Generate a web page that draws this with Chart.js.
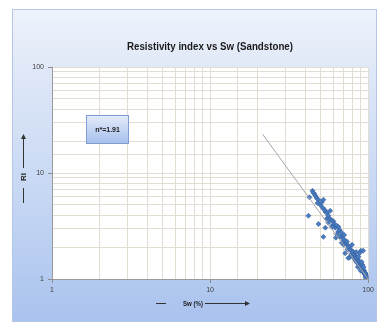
<!DOCTYPE html>
<html>
<head>
<meta charset="utf-8">
<script src="https://cdn.jsdelivr.net/npm/chart.js@4/dist/chart.umd.min.js"></script>
<style>
  html, body { margin: 0; padding: 0; background: #fff; }
  #wrap { width: 377px; height: 323px; }
</style>
</head>
<body>
<div id="wrap"><canvas id="grafico"></canvas></div>
<script>
// Sw (%) and RI of the sandstone plugs
const swValues = [44.4, 45.5, 46.4, 47.2, 48.5, 47.8, 49.9, 50.8, 51.5, 52.1,
  53.0, 53.6, 41.9, 55.0, 56.0, 54.5, 48.5, 57.2, 58.5, 53.6,
  60.3, 59.5, 61.0, 62.0, 63.0, 52.1, 64.8, 63.5, 66.0, 67.7,
  66.5, 68.5, 69.6, 70.5, 71.7, 72.5, 70.0, 73.5, 74.8, 74.0,
  76.0, 77.1, 71.5, 78.5, 78.0, 80.5, 79.5, 81.5, 82.8, 82.0,
  84.0, 83.5, 85.5, 86.5, 85.0, 87.5, 88.0, 89.1, 88.5, 86.0,
  90.0, 90.5, 91.7, 91.0, 92.5, 93.0, 89.5, 94.4, 94.0, 95.0,
  95.5, 96.0, 96.5, 97.1, 97.5, 98.0, 98.5, 99.0, 99.5, 100,
  92.0, 93.5, 90.0, 88.0, 76.5, 74.8, 83.9, 93.0, 91.0, 45.0,
  42.5, 56.0, 59.0, 97.0, 98.8, 96.2, 99.2, 95.2, 65.0, 68.0,
  57.5, 62.5, 79.0, 86.8];
const riValues = [6.8, 6.4, 6.1, 5.8, 5.6, 5.2, 5.0, 5.3, 4.7, 5.6,
  4.5, 4.3, 3.95, 4.2, 3.95, 3.7, 3.3, 3.7, 3.6, 3.05,
  3.5, 3.2, 3.3, 3.05, 3.2, 2.5, 2.8, 2.65, 2.9, 2.75,
  2.5, 2.55, 2.4, 2.6, 2.3, 2.15, 2.1, 2.25, 2.05, 1.9,
  2.0, 1.9, 1.75, 1.85, 1.72, 1.8, 1.65, 1.7, 1.65, 1.55,
  1.6, 1.48, 1.55, 1.5, 1.42, 1.45, 1.38, 1.42, 1.33, 1.3,
  1.35, 1.28, 1.3, 1.22, 1.25, 1.18, 1.2, 1.2, 1.14, 1.15,
  1.1, 1.13, 1.07, 1.1, 1.05, 1.08, 1.03, 1.05, 1.01, 1.0,
  1.36, 1.3, 1.85, 1.75, 1.6, 1.58, 1.8, 1.85, 1.45, 6.5,
  5.9, 3.4, 3.1, 1.0, 1.02, 1.04, 0.99, 1.12, 3.1, 2.2,
  4.4, 2.45, 2.1, 1.62];
// trend line (n = 1.91)
const trendSw = [21.5, 100];
const trendRi = [23.2, 1];
const xTickLabels = [1, 10, 100];
const yTickLabels = [1, 10, 100];

const puntos = swValues.map((sw, i) => ({ x: sw, y: riValues[i] }));
const tendencia = trendSw.map((sw, i) => ({ x: sw, y: trendRi[i] }));

function fitText(ctx, txt, x, y, w) {
  const m = ctx.measureText(txt).width;
  ctx.save();
  ctx.translate(x, y);
  ctx.scale(Math.min(1, w / m), 1);
  ctx.fillText(txt, 0, 0);
  ctx.restore();
}

const decor = {
  id: 'decor',
  beforeDraw(chart) {
    const ctx = chart.ctx;
    const a = chart.chartArea;
    ctx.save();
    ctx.fillStyle = '#fff';
    ctx.fillRect(0, 0, chart.width, chart.height);
    const g = ctx.createLinearGradient(0, 9, 0, 322);
    g.addColorStop(0, '#eef3fb');
    g.addColorStop(0.25, '#dbe5f7');
    g.addColorStop(0.6, '#c6d7f3');
    g.addColorStop(1, '#a9c2ee');
    ctx.fillStyle = g;
    ctx.fillRect(12, 9, 365, 313);
    ctx.strokeStyle = '#b3c6e8';
    ctx.strokeRect(12.5, 9.5, 364, 312);
    ctx.fillStyle = '#fff';
    ctx.fillRect(a.left, a.top, a.right - a.left, a.bottom - a.top);
    ctx.restore();
  },
  afterDraw(chart) {
    const ctx = chart.ctx;
    ctx.save();
    // title
    ctx.fillStyle = '#1a1a1a';
    ctx.font = 'bold 11px "Liberation Sans", sans-serif';
    ctx.textAlign = 'center';
    ctx.textBaseline = 'middle';
    fitText(ctx, 'Resistivity index vs Sw (Sandstone)', 210, 47, 166);

    // x axis title with arrow
    ctx.strokeStyle = '#333';
    ctx.lineWidth = 1;
    ctx.beginPath();
    ctx.moveTo(156, 303.5); ctx.lineTo(166, 303.5);
    ctx.moveTo(205, 303.5); ctx.lineTo(247, 303.5);
    ctx.stroke();
    ctx.beginPath();
    ctx.moveTo(250, 303.5); ctx.lineTo(245, 301); ctx.lineTo(245, 306); ctx.closePath();
    ctx.fillStyle = '#333';
    ctx.fill();
    ctx.fillStyle = '#1a1a1a';
    ctx.font = 'bold 7px "Liberation Sans", sans-serif';
    fitText(ctx, 'Sw (%)', 193, 304, 20);

    // y axis title with arrow
    ctx.strokeStyle = '#333';
    ctx.beginPath();
    ctx.moveTo(23.5, 168); ctx.lineTo(23.5, 138);
    ctx.moveTo(23.5, 188); ctx.lineTo(23.5, 203);
    ctx.stroke();
    ctx.beginPath();
    ctx.moveTo(23.5, 134); ctx.lineTo(21, 139); ctx.lineTo(26, 139); ctx.closePath();
    ctx.fillStyle = '#333';
    ctx.fill();
    ctx.save();
    ctx.translate(23.5, 177);
    ctx.rotate(-Math.PI / 2);
    ctx.fillStyle = '#1a1a1a';
    ctx.font = 'bold 8px "Liberation Sans", sans-serif';
    ctx.fillText('RI', 0, 0);
    ctx.restore();

    // n value box
    const bg = ctx.createLinearGradient(0, 115, 0, 144);
    bg.addColorStop(0, '#e4ecfa');
    bg.addColorStop(1, '#a5bfed');
    ctx.fillStyle = bg;
    ctx.fillRect(86, 115, 43, 29);
    ctx.strokeStyle = '#7f9dd2';
    ctx.strokeRect(86.5, 115.5, 42, 28);
    ctx.fillStyle = '#1a1a1a';
    ctx.font = 'bold 7px "Liberation Sans", sans-serif';
    fitText(ctx, 'n*=1.91', 107.5, 130, 30);
    ctx.restore();
  }
};

const gridColor = '#e2ddd2';
const tickLabel = (v) => (xTickLabels.includes(v) ? String(v) : '');

new Chart(document.getElementById('grafico'), {
  type: 'scatter',
  data: {
    datasets: [{
      label: 'Trend',
      data: tendencia,
      showLine: true,
      borderColor: '#a6a6a6',
      borderWidth: 1,
      pointRadius: 0
    }, {
      label: 'RI',
      data: puntos,
      pointStyle: 'rectRot',
      pointRadius: 2.5,
      backgroundColor: '#4a7bbf',
      borderColor: '#2f5d9e',
      borderWidth: 0.6
    }]
  },
  options: {
    responsive: true,
    maintainAspectRatio: false,
    animation: false,
    layout: { padding: { left: 12, right: 7, top: 67, bottom: 0 } },
    plugins: {
      legend: { display: false },
      tooltip: { enabled: false }
    },
    scales: {
      x: {
        type: 'logarithmic',
        min: 1,
        max: 100,
        afterFit: (s) => { s.height = 44; },
        grid: {
          color: gridColor,
          tickLength: 4,
          tickColor: (c) => (c.tick && xTickLabels.includes(c.tick.value) ? '#8c8c8c' : 'transparent')
        },
        border: { color: '#9a9a9a' },
        ticks: {
          autoSkip: false,
          maxRotation: 0,
          padding: 3,
          color: '#404040',
          font: { size: 7, family: 'Liberation Sans' },
          callback: tickLabel
        }
      },
      y: {
        type: 'logarithmic',
        min: 1,
        max: 100,
        afterFit: (s) => { s.width = 40; },
        grid: {
          color: gridColor,
          tickLength: 4,
          tickColor: (c) => (c.tick && yTickLabels.includes(c.tick.value) ? '#8c8c8c' : 'transparent')
        },
        border: { color: '#9a9a9a' },
        ticks: {
          autoSkip: false,
          padding: 4,
          color: '#404040',
          font: { size: 7, family: 'Liberation Sans' },
          callback: (v) => (yTickLabels.includes(v) ? String(v) : '')
        }
      }
    }
  },
  plugins: [decor]
});
</script>
</body>
</html>
